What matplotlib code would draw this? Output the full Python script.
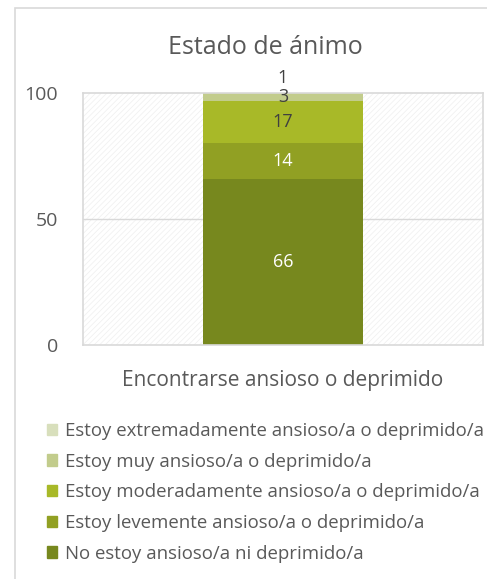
import numpy as np
import matplotlib
matplotlib.use('Agg')
import matplotlib.pyplot as plt
from matplotlib.patches import Rectangle

plt.rcParams['font.family'] = ['Open Sans', 'DejaVu Sans']
plt.rcParams['hatch.linewidth'] = 0.5

# data
category = 'Encontrarse ansioso o deprimido'
labels = ['No estoy ansioso/a ni deprimido/a',
          'Estoy levemente ansioso/a o deprimido/a',
          'Estoy moderadamente ansioso/a o deprimido/a',
          'Estoy muy ansioso/a o deprimido/a',
          'Estoy extremadamente ansioso/a o deprimido/a']
values = [66, 14, 17, 3, 1]
colors = ['#77881e', '#91a023', '#a8b928', '#c2cc8c', '#d8dfbc']
label_colors = ['white', 'white', '#404040', '#404040', '#404040']
yticks = [0, 50, 100]

fig = plt.figure(figsize=(4.87, 5.79), dpi=100)

# outer chart frame
fig.patches.append(Rectangle((15 / 487, -0.05), 1.0, 1 - 8 / 579 + 0.05,
                             transform=fig.transFigure, facecolor='none',
                             edgecolor='#d9d9d9', lw=1.2, zorder=0))

ax = fig.add_axes([83 / 487, 1 - 345 / 579, 400 / 487, 252 / 579])
ax.set_xlim(-0.5, 0.5)
ax.set_ylim(0, 100)

# hatched plot area
ax.add_patch(Rectangle((0, 0), 1, 1, transform=ax.transAxes, facecolor='white',
                       hatch='//////', edgecolor='#efefef', lw=0, zorder=0))
ax.axhline(50, color='#d9d9d9', lw=1, zorder=1)

bottom = 0
for i, (v, c) in enumerate(zip(values, colors)):
    ax.bar(0, v, width=0.4, bottom=bottom, color=c, zorder=2)
    off = 10 if i == len(values) - 1 else 0
    ax.annotate(str(v), (0, bottom + v / 2), xytext=(0, off), textcoords='offset points',
                ha='center', va='center', fontsize=13, color=label_colors[i],
                annotation_clip=False, zorder=3)
    bottom += v

for s in ax.spines.values():
    s.set_color('#d9d9d9')
    s.set_linewidth(1.2)

ax.set_yticks(yticks)
ax.set_yticklabels([str(t) for t in yticks], fontsize=14, color='#595959')
ax.tick_params(axis='y', length=0, pad=18)
ax.set_xticks([0])
ax.set_xticklabels([category], fontsize=15, color='#595959')
ax.tick_params(axis='x', length=0, pad=18)

fig.text(265 / 487, 1 - 48 / 579, 'Estado de ánimo', ha='center', va='center',
         fontsize=18, color='#595959')

# legend (top item = last series)
handles = [Rectangle((0, 0), 1, 1, color=c) for c in colors][::-1]
leg = fig.legend(handles, labels[::-1], loc='upper left',
                 bbox_to_anchor=(47 / 487, 1 - 422 / 579), frameon=False,
                 borderaxespad=0, borderpad=0,
                 fontsize=13.4, handlelength=0.55, handleheight=0.55,
                 handletextpad=0.4, labelspacing=0.68)
for t in leg.get_texts():
    t.set_color('#595959')

fig.savefig('out.png', dpi=100)
